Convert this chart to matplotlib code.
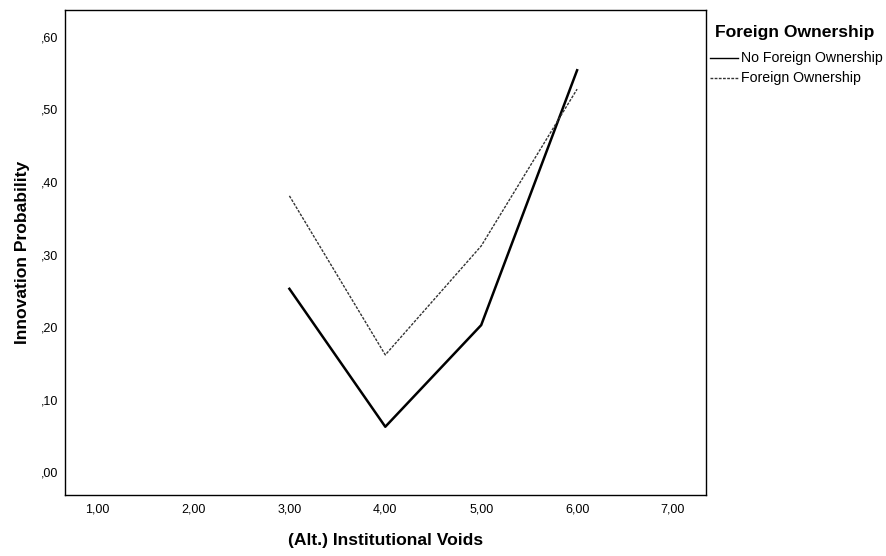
import matplotlib
matplotlib.use("Agg")
import matplotlib.pyplot as plt
from matplotlib.lines import Line2D

plt.rcParams['font.family'] = ['Liberation Sans', 'DejaVu Sans']

x_vals = [3, 4, 5, 6]
no_foreign = [0.253, 0.063, 0.203, 0.554]
foreign = [0.381, 0.162, 0.312, 0.528]
x_ticks = [1, 2, 3, 4, 5, 6, 7]
x_tick_labels = ["1,00", "2,00", "3,00", "4,00", "5,00", "6,00", "7,00"]
y_ticks = [0.0, 0.1, 0.2, 0.3, 0.4, 0.5, 0.6]
y_tick_labels = [",00", ",10", ",20", ",30", ",40", ",50", ",60"]
series_names = ["No Foreign Ownership", "Foreign Ownership"]
legend_title = "Foreign Ownership"

W, H = 887, 556
fig = plt.figure(figsize=(W / 100, H / 100), dpi=100)
ax = fig.add_axes([65 / W, 1 - 495 / H, 640.6 / W, 485 / H])
dash = (0, (2, 1))
ax.plot(x_vals, no_foreign, color='black', lw=1.8)
ax.plot(x_vals, foreign, color='#333333', lw=1.0, linestyle=dash)
ax.set_xlim(0.66, 7.34)
ax.set_ylim(-0.031, 0.637)
ax.set_xticks(x_ticks)
ax.set_xticklabels(x_tick_labels, fontsize=9)
ax.set_yticks(y_ticks)
ax.set_yticklabels(y_tick_labels, fontsize=9)
ax.tick_params(axis='y', length=0, pad=5)
ax.tick_params(axis='x', length=0, pad=6)
for s in ax.spines.values():
    s.set_linewidth(1.0)
ax.set_xlabel("(Alt.) Institutional Voids", fontsize=12.6, fontweight='bold', labelpad=13)
ax.set_ylabel("Innovation Probability", fontsize=12.6, fontweight='bold', labelpad=8)

# legend drawn in figure pixel coordinates
def fx(px):
    return px / W

def fy(py):
    return 1 - py / H

fig.text(fx(715), fy(32), legend_title, fontsize=12.6, fontweight='bold',
         ha='left', va='center')
styles = [dict(color='black', lw=1.0), dict(color='#333333', lw=1.0, linestyle=dash)]
for i, (name, st) in enumerate(zip(series_names, styles)):
    yy = 58 + 20 * i
    fig.add_artist(Line2D([fx(710), fx(738)], [fy(yy), fy(yy)],
                          transform=fig.transFigure, **st))
    fig.text(fx(741), fy(yy), name, fontsize=10.2, ha='left', va='center')

fig.savefig("out.png", dpi=100)
